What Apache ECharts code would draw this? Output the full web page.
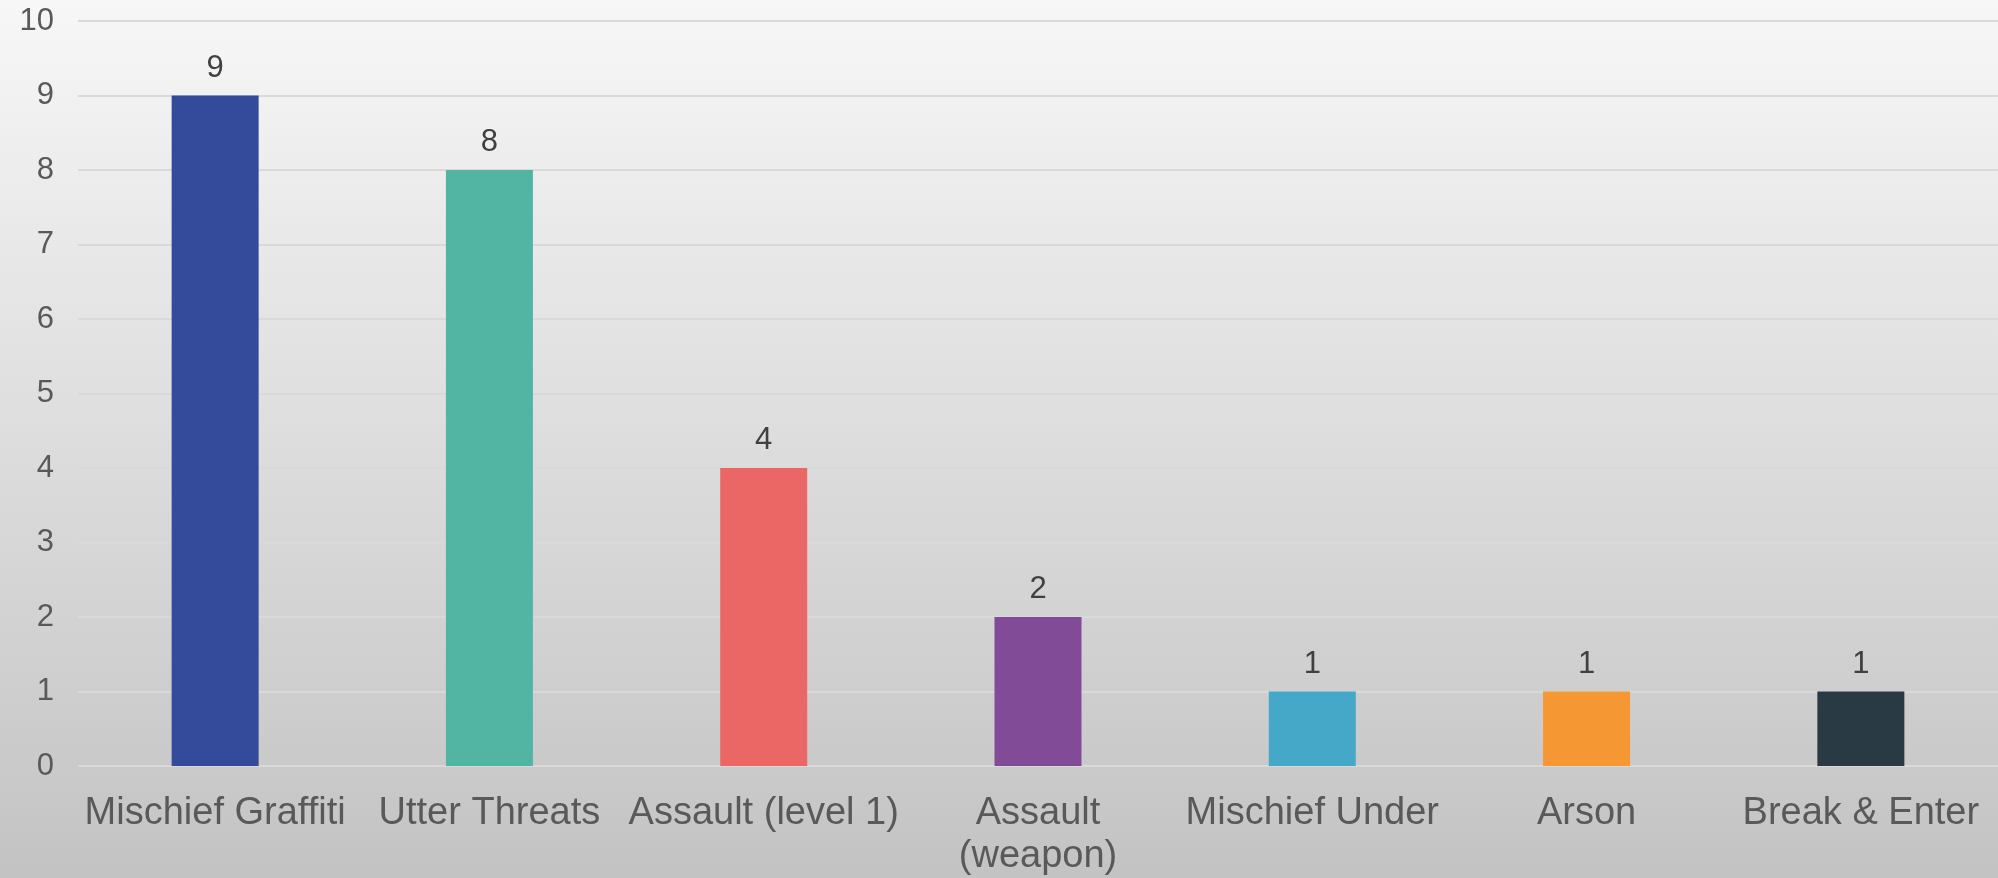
<!DOCTYPE html>
<html>
<head>
<meta charset="utf-8">
<style>
html,body{margin:0;padding:0;}
#c{width:1998px;height:878px;}
</style>
<script src="https://cdn.jsdelivr.net/npm/echarts@6/dist/echarts.min.js"></script>
</head>
<body>
<div id="c"></div>
<script>
const categories = ["Mischief Graffiti", "Utter Threats", "Assault (level 1)", "Assault\n(weapon)", "Mischief Under", "Arson", "Break & Enter"];
const values = [9, 8, 4, 2, 1, 1, 1];
const barColors = ["#344a9a", "#52b5a4", "#ea6766", "#824b97", "#45a8c9", "#f59733", "#293a44"];
const yTicks = [0, 10, 1];

const chart = echarts.init(document.getElementById('c'));
chart.setOption({
  backgroundColor: new echarts.graphic.LinearGradient(0, 0, 0, 1, [
    {offset: 0, color: '#f7f7f7'},
    {offset: 1, color: '#c3c3c3'}
  ]),
  textStyle: {fontFamily: 'Liberation Sans, Arial, sans-serif'},
  grid: {left: 78, right: 0, top: 21, bottom: 104, containLabel: false},
  xAxis: {
    type: 'category',
    data: categories,
    axisLine: {show: false},
    axisTick: {show: false},
    axisLabel: {color: '#595959', fontSize: 38, margin: 26, lineHeight: 43, interval: 0}
  },
  yAxis: {
    type: 'value',
    min: yTicks[0], max: yTicks[1], interval: yTicks[2],
    axisLine: {show: false},
    axisTick: {show: false},
    axisLabel: {color: '#595959', fontSize: 31, margin: 24},
    splitLine: {lineStyle: {color: '#d9d9d9', width: 2}}
  },
  series: [{
    type: 'bar',
    barWidth: 87,
    data: values.map((v, i) => ({value: v, itemStyle: {color: barColors[i]}})),
    label: {show: true, position: 'top', distance: 12, color: '#404040', fontSize: 31}
  }]
});
</script>
</body>
</html>
